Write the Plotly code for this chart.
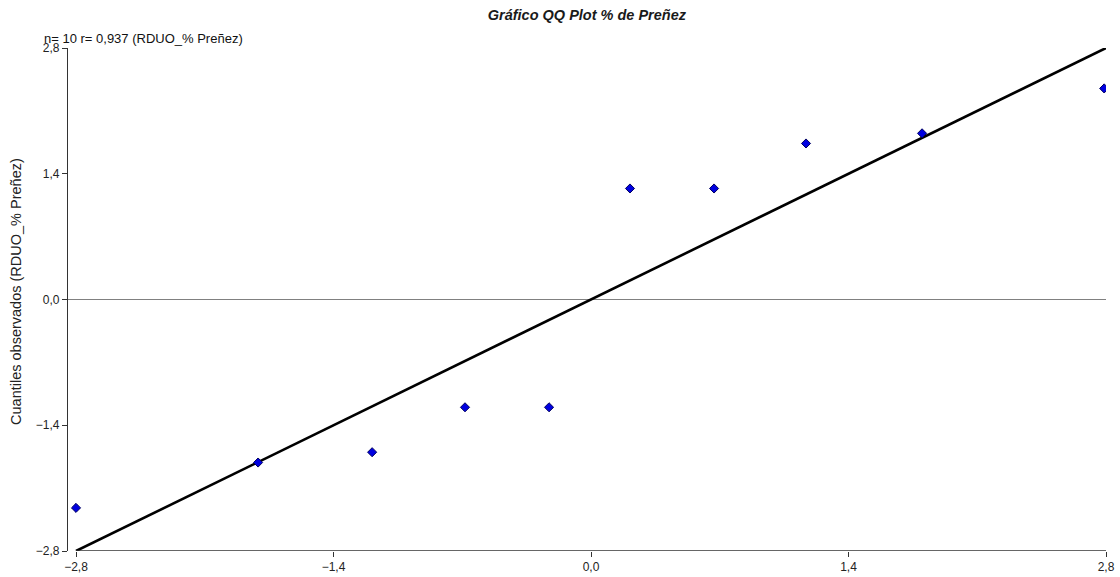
import plotly.graph_objects as go

# Data
theoretical = [-2.80, -1.81, -1.19, -0.685, -0.228, 0.212, 0.669, 1.169, 1.80, 2.79]
observed = [-2.32, -1.815, -1.70, -1.20, -1.20, 1.236, 1.236, 1.737, 1.85, 2.35]
ref_line_x = [-2.8, 2.8]
ref_line_y = [-2.8, 2.8]
tick_vals = [-2.8, -1.4, 0.0, 1.4, 2.8]

FONT = "Liberation Sans, Arial, sans-serif"

fig = go.Figure()
fig.add_trace(go.Scatter(x=ref_line_x, y=ref_line_y, mode="lines",
                         line=dict(color="black", width=2.6), hoverinfo="skip",
                         showlegend=False))
fig.add_trace(go.Scatter(x=theoretical, y=observed, mode="markers",
                         marker=dict(symbol="diamond", size=7, color="#0000e0",
                                     line=dict(color="#000060", width=1)),
                         showlegend=False))

# x axis line drawn from -2.8 to 2.8 (axis starts right of the y axis)
fig.add_shape(type="line", xref="x", yref="y", x0=tick_vals[0], x1=tick_vals[-1],
              y0=-2.8, y1=-2.8, line=dict(color="#333333", width=1.3))

fig.update_layout(
    width=1120, height=577,
    margin=dict(l=68, r=14, t=48, b=26),
    paper_bgcolor="white", plot_bgcolor="white",
    separators=",.",
    font=dict(family=FONT, size=12, color="#222222"),
    title=dict(text="<b><i>Gráfico QQ Plot % de Preñez</i></b>", x=0.524, xanchor="center",
               y=0.975, yanchor="middle", font=dict(family=FONT, size=14.5, color="#1a1a1a")),
    xaxis=dict(range=[-2.8 - 8 / 183.9, 2.8], tickvals=tick_vals, tickformat=".1f",
               showgrid=False, zeroline=False, showline=False, automargin=False,
               ticks="outside", ticklen=5, tickcolor="#333333",
               tickfont=dict(family=FONT, size=12, color="#222222")),
    yaxis=dict(range=[-2.8, 2.8], tickvals=tick_vals, tickformat=".1f",
               showgrid=False, zeroline=True, zerolinecolor="#808080", zerolinewidth=1,
               showline=True, linecolor="#333333", linewidth=1.3, automargin=False,
               ticks="outside", ticklen=5, tickcolor="#333333",
               tickfont=dict(family=FONT, size=12, color="#222222")),
)

fig.add_annotation(text="Cuantiles observados (RDUO_% Preñez)", xref="paper", yref="paper",
                   x=-52 / 1038, y=0.515, xanchor="center", yanchor="middle", textangle=-90,
                   showarrow=False, font=dict(family=FONT, size=14.5, color="#222222"))

fig.add_annotation(text="n= 10 r= 0,937 (RDUO_% Preñez)", xref="paper", yref="paper",
                   x=-0.025, y=1.0, xanchor="left", yanchor="bottom", showarrow=False,
                   font=dict(family=FONT, size=13, color="#111111"))

fig.write_html("out.html", config={"displayModeBar": False},
               post_script="document.body.style.margin='0';document.body.style.overflow='hidden';")
